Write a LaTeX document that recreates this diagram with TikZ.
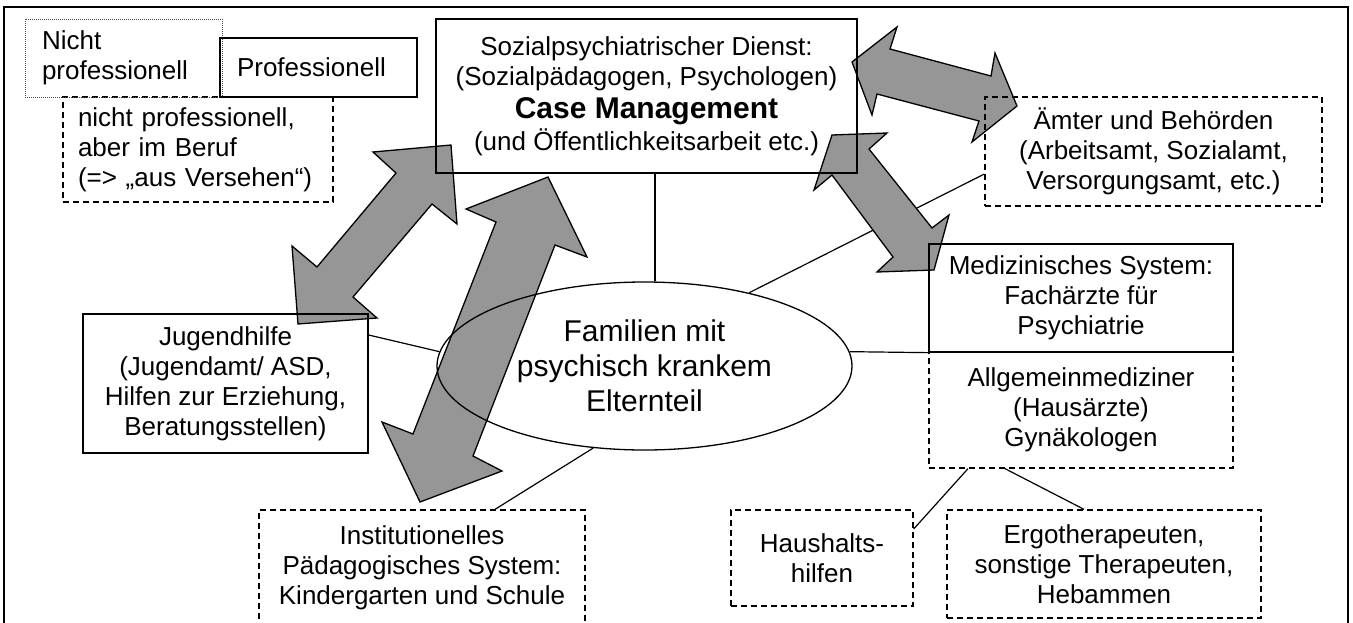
\documentclass[tikz,border=0pt]{standalone}
\usepackage{fontspec}
\setmainfont{Liberation Sans}
\usetikzlibrary{shapes.geometric}
\definecolor{arrowgray}{RGB}{150,150,150}
\pgfdeclarelayer{links}
\pgfdeclarelayer{arrows}
\pgfsetlayers{links,arrows,main}
\begin{document}
\begin{tikzpicture}[x=1pt,y=-1pt,
  every node/.style={font=\fontsize{26}{30}\selectfont, inner sep=0pt, align=center},
  solidbox/.style={draw, line width=1.3pt, rectangle},
  dashbox/.style={draw, line width=1.3pt, dash pattern=on 6pt off 4pt, rectangle},
  dotbox/.style={draw=black!70, line width=1pt, dash pattern=on 1pt off 1pt, rectangle},
  link/.style={line width=1.2pt},
  blockarrow/.style={fill=arrowgray, draw, line width=1.3pt, line join=miter}]

\useasboundingbox (0,0) rectangle (1353,622);
\begin{scope}
  \clip (0,0) rectangle (1353,622);
  \draw[line width=2pt] (4,7) rectangle (1348,660);
\end{scope}

% legend
\node[dashbox, minimum width=270pt, minimum height=105pt, text width=240pt, align=left]
  (legacc) at (198,149.5) {nicht professionell,\\aber im Beruf\\(=> „aus Versehen“)};
\node[dotbox, minimum width=197pt, minimum height=78pt, text width=163pt, align=left]
  (legnp) at (123.5,58) {Nicht\\professionell};
\node[solidbox, minimum width=197pt, minimum height=59pt, text width=163pt, align=left]
  (legp) at (318.5,67.5) {Professionell};

% boxes
\node[solidbox, minimum width=421pt, minimum height=154pt] (case) at (646.5,96)
  {Sozialpsychiatrischer Dienst:\\(Sozialpädagogen, Psychologen)\\[3pt]
   {\fontsize{30}{33}\selectfont\bfseries Case Management}\\[2pt]
   (und Öffentlichkeitsarbeit etc.)};
\node[dashbox, minimum width=337pt, minimum height=109pt] (amt) at (1153.5,151.5)
  {Ämter und Behörden\\(Arbeitsamt, Sozialamt,\\Versorgungsamt, etc.)};
\node[dashbox, minimum width=304pt, minimum height=116pt] (medd) at (1081,410)
  {Allgemeinmediziner\\(Hausärzte)\\Gynäkologen};
\node[solidbox, minimum width=304pt, minimum height=108pt] (med) at (1081,298)
  {Medizinisches System:\\Fachärzte für\\Psychiatrie};
\node[solidbox, minimum width=285pt, minimum height=139pt] (jug) at (225.5,383.5)
  {Jugendhilfe\\(Jugendamt/ ASD,\\Hilfen zur Erziehung,\\Beratungsstellen)};
\node[dashbox, minimum width=326pt, minimum height=115pt] (inst) at (422,567.5)
  {Institutionelles\\Pädagogisches System:\\Kindergarten und Schule};
\node[dashbox, minimum width=182pt, minimum height=96pt] (haus) at (822,558)
  {Haushalts-\\hilfen};
\node[dashbox, minimum width=314pt, minimum height=108pt] (ergo) at (1104,564)
  {Ergotherapeuten,\\sonstige Therapeuten,\\Hebammen};
\node[draw, ellipse, line width=1.3pt, minimum width=415pt, minimum height=168pt,
  font=\fontsize{30}{35}\selectfont] (fam) at (644.5,366)
  {Familien mit\\psychisch krankem\\Elternteil};

% connectors to the family
\begin{pgfonlayer}{links}
  \draw[link] ([xshift=8.5pt]case.south) -- ([xshift=8.5pt]case.south |- fam.north);
  \draw[link] ([yshift=48.5pt]jug.east) -- (fam.176);
  \draw[link] ([xshift=73pt]inst.north) -- (fam.238);
  \draw[link] ([yshift=-22.5pt]amt.west) -- (fam.35);
  \draw[link] (fam.4) -- (med.south west);
  \draw[link] ([xshift=-113pt]medd.south) -- ([yshift=29pt]haus.east);
  \draw[link] ([xshift=-76pt]medd.south) -- ([xshift=-20pt]ergo.north);
\end{pgfonlayer}

% cooperation arrows
\begin{pgfonlayer}{arrows}
  \draw[blockarrow] (451,145) -- (457,224) -- (432,204) -- (353,297) -- (377,318)
    -- (298,324) -- (292,246) -- (317,267) -- (396,173) -- (373,152) -- cycle;
  \draw[blockarrow] (548,177) -- (587,257) -- (555,245) -- (473,456) -- (502,471)
    -- (420,502) -- (382,422) -- (413,434) -- (496,222) -- (466,209) -- cycle;
  \draw[blockarrow] (852,62) -- (897,27) -- (890,49) -- (991,76) -- (995,53)
    -- (1017,106) -- (972,142) -- (979,121) -- (877,94) -- (872,115) -- cycle;
  \draw[blockarrow] (832,135) -- (887,133) -- (869,149) -- (932,228) -- (949,215)
    -- (934,270) -- (877,272) -- (893,257) -- (832,175) -- (814,190) -- cycle;
\end{pgfonlayer}
\end{tikzpicture}
\end{document}
